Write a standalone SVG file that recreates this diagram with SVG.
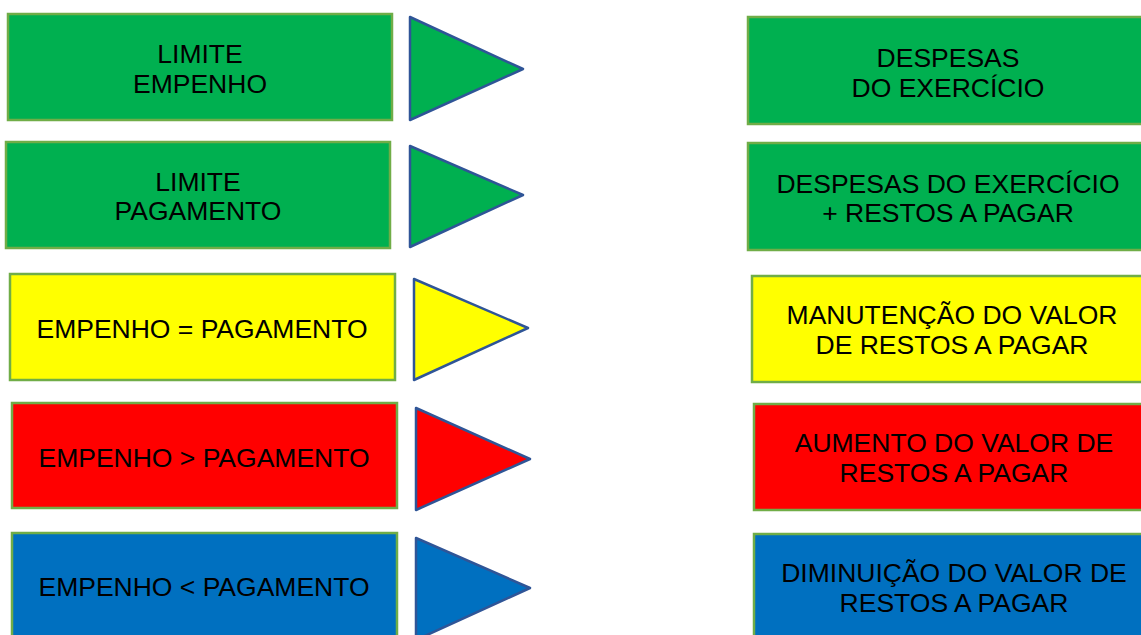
<svg xmlns="http://www.w3.org/2000/svg" width="1141" height="635" viewBox="0 0 1141 635">
<style>
.box{stroke:#70AD47;stroke-width:2.5}
.tri{stroke:#2F5597;stroke-width:2.5;stroke-linejoin:round}
.g{fill:#00B050}.y{fill:#FFFF00}.r{fill:#FF0000}.b{fill:#0070C0}
text{font-family:"Liberation Sans",Arial,sans-serif;font-size:26.5px;fill:#000;text-anchor:middle}
</style>
<rect width="1141" height="635" fill="#fff"/>
<g id="connectors"/>
<g id="limite-empenho"><rect class="box g" x="8" y="14" width="384" height="106"/><text x="200" y="63">LIMITE</text><text x="200" y="93">EMPENHO</text></g>
<g id="tri1"><polygon class="tri g" points="410,17 523,69 410,120"/></g>
<g id="despesas-exercicio"><rect class="box g" x="748" y="17" width="400" height="107"/><text x="948" y="67">DESPESAS</text><text x="948" y="97">DO EXERCÍCIO</text></g>

<g id="limite-pagamento"><rect class="box g" x="6" y="142" width="384" height="106"/><text x="198" y="191">LIMITE</text><text x="198" y="220">PAGAMENTO</text></g>
<g id="tri2"><polygon class="tri g" points="410,146 523,195 410,247"/></g>
<g id="despesas-rp"><rect class="box g" x="748" y="143" width="400" height="107"/><text x="948" y="193">DESPESAS DO EXERCÍCIO</text><text x="948" y="222">+ RESTOS A PAGAR</text></g>

<g id="emp-eq-pag"><rect class="box y" x="10" y="274" width="385" height="106"/><text x="202" y="338">EMPENHO = PAGAMENTO</text></g>
<g id="tri3"><polygon class="tri y" points="414,279 528,328 414,380"/></g>
<g id="manutencao"><rect class="box y" x="752" y="276" width="400" height="106"/><text x="952" y="324">MANUTENÇÃO DO VALOR</text><text x="952" y="354">DE RESTOS A PAGAR</text></g>

<g id="emp-gt-pag"><rect class="box r" x="12" y="403" width="385" height="105"/><text x="204" y="467">EMPENHO &gt; PAGAMENTO</text></g>
<g id="tri4"><polygon class="tri r" points="416,408 530,459 416,510"/></g>
<g id="aumento"><rect class="box r" x="754" y="404" width="400" height="106"/><text x="954" y="452">AUMENTO DO VALOR DE</text><text x="954" y="482">RESTOS A PAGAR</text></g>

<g id="emp-lt-pag"><rect class="box b" x="12" y="533" width="385" height="110"/><text x="204" y="596">EMPENHO &lt; PAGAMENTO</text></g>
<g id="tri5"><polygon class="tri b" points="416,538 530,588 416,640"/></g>
<g id="diminuicao"><rect class="box b" x="754" y="534" width="400" height="110"/><text x="954" y="582">DIMINUIÇÃO DO VALOR DE</text><text x="954" y="612">RESTOS A PAGAR</text></g>
</svg>
